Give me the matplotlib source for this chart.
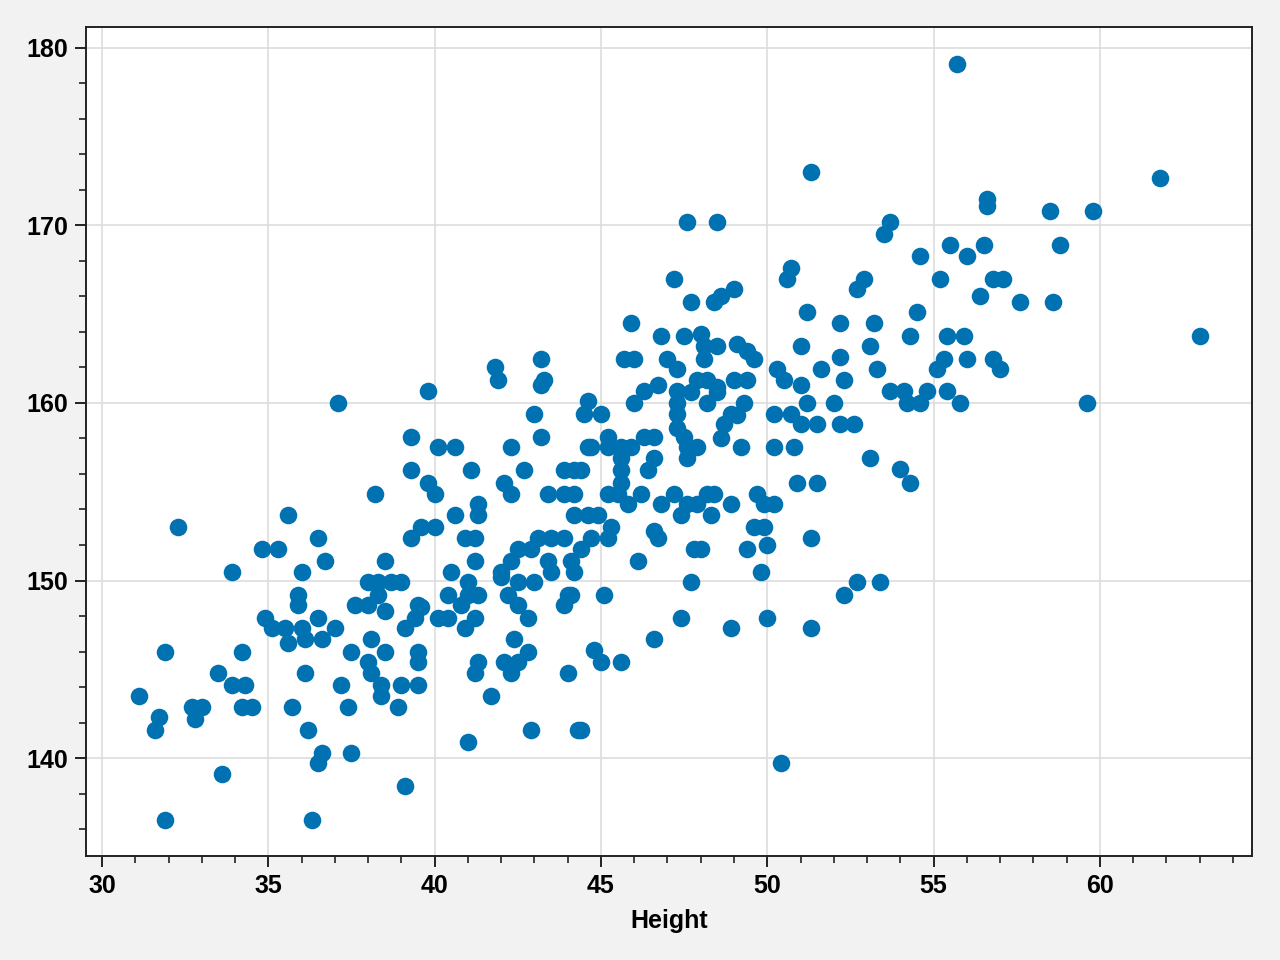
import matplotlib
matplotlib.use("Agg")
import matplotlib.pyplot as plt
from matplotlib.ticker import MultipleLocator

# Values (x = weight-like "Height" axis, y = second variable)
x_vals = [
    31.1, 31.6, 31.7, 31.9, 31.9, 32.3, 32.7, 32.8, 33.0, 33.5,
    33.6, 33.9, 33.9, 34.2, 34.3, 34.2, 34.5, 34.8, 34.9, 35.1,
    35.3, 35.5, 35.6, 35.6, 35.7, 35.9, 35.9, 36.0, 36.0, 36.1,
    36.1, 36.2, 36.3, 36.5, 36.5, 36.5, 36.6, 36.6, 36.7, 37.0,
    37.1, 37.2, 37.4, 37.5, 37.5, 37.6, 38.0, 38.0, 38.0, 38.1,
    38.1, 38.2, 38.3, 38.3, 38.4, 38.4, 38.5, 38.5, 38.5, 38.7,
    38.9, 39.0, 39.0, 39.1, 39.1, 39.3, 39.3, 39.3, 39.4, 39.5,
    39.5, 39.5, 39.5, 39.6, 39.6, 39.8, 39.8, 40.0, 40.0, 40.1,
    40.1, 40.4, 40.4, 40.5, 40.6, 40.6, 40.8, 40.9, 40.9, 41.0,
    41.0, 41.0, 41.1, 41.2, 41.2, 41.2, 41.2, 41.3, 41.3, 41.3,
    41.3, 41.7, 41.8, 41.9, 42.0, 42.0, 42.1, 42.1, 42.2, 42.3,
    42.3, 42.3, 42.3, 42.4, 42.5, 42.5, 42.5, 42.5, 42.7, 42.8,
    42.8, 42.9, 42.9, 43.0, 43.0, 43.1, 43.2, 43.2, 43.2, 43.3,
    43.4, 43.4, 43.5, 43.5, 43.9, 43.9, 43.9, 43.9, 44.0, 44.0,
    44.1, 44.2, 44.1, 44.2, 44.2, 44.2, 44.3, 44.4, 44.4, 44.4,
    44.5, 44.6, 44.6, 44.6, 44.7, 44.7, 44.8, 44.9, 45.0, 45.0,
    45.1, 45.2, 45.2, 45.2, 45.2, 45.3, 45.5, 45.6, 45.6, 45.6,
    45.6, 45.6, 45.7, 45.8, 45.9, 45.9, 46.0, 46.0, 46.1, 46.3,
    46.2, 46.3, 46.4, 46.6, 46.6, 46.6, 46.6, 46.7, 46.7, 46.8,
    46.8, 47.0, 47.2, 47.2, 47.3, 47.3, 47.3, 47.3, 47.3, 47.4,
    47.4, 47.5, 47.5, 47.6, 47.6, 47.7, 47.6, 47.6, 47.7, 47.7,
    47.8, 47.9, 47.9, 48.0, 48.0, 48.1, 48.1, 48.2, 48.2, 48.2,
    48.3, 48.4, 48.4, 48.5, 48.5, 48.5, 48.5, 48.6, 48.6, 48.7,
    48.9, 48.9, 48.9, 49.0, 49.0, 49.1, 49.1, 49.2, 49.3, 49.4,
    49.4, 49.4, 49.6, 49.6, 49.7, 49.8, 49.9, 49.9, 50.0, 50.0,
    50.2, 50.2, 50.2, 50.3, 50.5, 50.4, 50.6, 50.7, 50.7, 50.8,
    50.9, 51.0, 51.0, 51.0, 51.2, 51.2, 51.3, 51.3, 51.3, 51.5,
    51.5, 51.6, 52.0, 52.2, 52.2, 52.3, 52.2, 52.3, 52.6, 52.7,
    52.7, 52.9, 53.1, 53.1, 53.2, 53.3, 53.4, 53.5, 53.7, 53.7,
    54.0, 54.1, 54.2, 54.3, 54.3, 54.5, 54.6, 54.6, 54.8, 55.1,
    55.2, 55.3, 55.4, 55.4, 55.5, 55.7, 55.8, 55.9, 56.0, 56.0,
    56.4, 56.5, 56.6, 56.6, 56.8, 56.8, 57.0, 57.1, 57.6, 58.5,
    58.6, 58.8, 59.6, 59.8, 61.8, 63.0, 47.9,
]
y_vals = [
    143.5, 141.6, 142.3, 146.0, 136.5, 153.0, 142.9, 142.2, 142.9, 144.8,
    139.1, 150.5, 144.1, 146.0, 144.1, 142.9, 142.9, 151.8, 147.9, 147.3,
    151.8, 147.3, 153.7, 146.5, 142.9, 149.2, 148.6, 150.5, 147.3, 144.8,
    146.7, 141.6, 136.5, 152.4, 147.9, 139.7, 140.3, 146.7, 151.1, 147.3,
    160.0, 144.1, 142.9, 140.3, 146.0, 148.6, 148.6, 145.4, 149.9, 144.8,
    146.7, 154.9, 149.9, 149.2, 144.1, 143.5, 148.3, 151.1, 146.0, 149.9,
    142.9, 144.1, 149.9, 138.4, 147.3, 158.1, 156.2, 152.4, 147.9, 148.6,
    145.4, 146.0, 144.1, 148.5, 153.0, 155.5, 160.7, 154.9, 153.0, 157.5,
    147.9, 147.9, 149.2, 150.5, 153.7, 157.5, 148.6, 152.4, 147.3, 149.2,
    149.9, 140.9, 156.2, 147.9, 152.4, 151.1, 144.8, 154.3, 149.2, 145.4,
    153.7, 143.5, 162.0, 161.3, 150.5, 150.2, 155.5, 145.4, 149.2, 154.9,
    151.1, 144.8, 157.5, 146.7, 151.8, 149.9, 148.6, 145.4, 156.2, 147.9,
    146.0, 141.6, 151.8, 159.4, 149.9, 152.4, 158.1, 162.5, 161.0, 161.3,
    154.9, 151.1, 152.4, 150.5, 152.4, 154.9, 156.2, 148.6, 149.2, 144.8,
    151.1, 150.5, 149.2, 154.9, 156.2, 153.7, 141.6, 151.8, 156.2, 141.6,
    159.4, 153.7, 157.5, 160.1, 152.4, 157.5, 146.1, 153.7, 145.4, 159.4,
    149.2, 152.4, 157.5, 154.9, 158.1, 153.0, 154.9, 155.5, 156.9, 156.2,
    157.5, 145.4, 162.5, 154.3, 157.5, 164.5, 160.0, 162.5, 151.1, 158.1,
    154.9, 160.7, 156.2, 158.1, 156.9, 146.7, 152.8, 161.0, 152.4, 163.8,
    154.3, 162.5, 167.0, 154.9, 159.4, 160.0, 161.9, 160.7, 158.6, 153.7,
    147.9, 163.8, 158.1, 156.9, 170.2, 160.6, 157.5, 154.3, 165.7, 149.9,
    151.8, 161.3, 157.5, 163.9, 151.8, 163.2, 162.5, 154.9, 161.3, 160.0,
    153.7, 165.7, 154.9, 160.6, 160.9, 170.2, 163.2, 158.0, 166.0, 158.8,
    159.4, 154.3, 147.3, 161.3, 166.4, 159.3, 163.3, 157.5, 160.0, 161.3,
    162.9, 151.8, 162.5, 153.0, 154.9, 150.5, 153.0, 154.3, 152.0, 147.9,
    159.4, 157.5, 154.3, 161.9, 161.3, 139.7, 167.0, 167.6, 159.4, 157.5,
    155.5, 158.8, 161.0, 163.2, 165.1, 160.0, 152.4, 173.0, 147.3, 158.8,
    155.5, 161.9, 160.0, 164.5, 162.6, 161.3, 158.8, 149.2, 158.8, 149.9,
    166.4, 167.0, 156.9, 163.2, 164.5, 161.9, 149.9, 169.5, 170.2, 160.7,
    156.3, 160.7, 160.0, 163.8, 155.5, 165.1, 168.3, 160.0, 160.7, 161.9,
    167.0, 162.5, 160.7, 163.8, 168.9, 179.1, 160.0, 163.8, 162.5, 168.3,
    166.0, 168.9, 171.5, 171.1, 167.0, 162.5, 161.9, 167.0, 165.7, 170.8,
    165.7, 168.9, 160.0, 170.8, 172.7, 163.8, 154.3,
]

x_label = "Height"
x_ticks = [30, 35, 40, 45, 50, 55, 60]
y_ticks = [140, 150, 160, 170, 180]

plt.rcParams["font.family"] = ["Liberation Sans", "DejaVu Sans"]
plt.rcParams["font.size"] = 9

fig = plt.figure(figsize=(6.4, 4.8), dpi=200, facecolor="#f2f2f2")
ax = fig.add_axes([0.0672, 0.1083, 0.9109, 0.8636])
ax.set_facecolor("white")

ax.scatter(x_vals, y_vals, s=40, color="#0072B2", linewidths=0, zorder=3)

ax.set_xlim(29.52, 64.57)
ax.set_ylim(134.48, 181.18)
ax.set_xticks(x_ticks)
ax.set_yticks(y_ticks)
ax.xaxis.set_minor_locator(MultipleLocator(1))
ax.yaxis.set_minor_locator(MultipleLocator(2))

ax.grid(True, which="major", color="#dddddd", linewidth=0.6, zorder=0)
ax.set_axisbelow(True)
for sp in ax.spines.values():
    sp.set_linewidth(0.7)
    sp.set_color("#222222")
ax.tick_params(which="major", direction="out", length=4, width=0.7, color="#222222", labelsize=9, pad=2.5)
ax.tick_params(which="minor", direction="out", length=2.4, width=0.6, color="#222222")
for lab in ax.get_xticklabels() + ax.get_yticklabels():
    lab.set_fontweight("bold")

ax.set_xlabel(x_label, fontsize=9, fontweight="bold", labelpad=4)

fig.savefig("out.png", dpi=200, facecolor=fig.get_facecolor())
